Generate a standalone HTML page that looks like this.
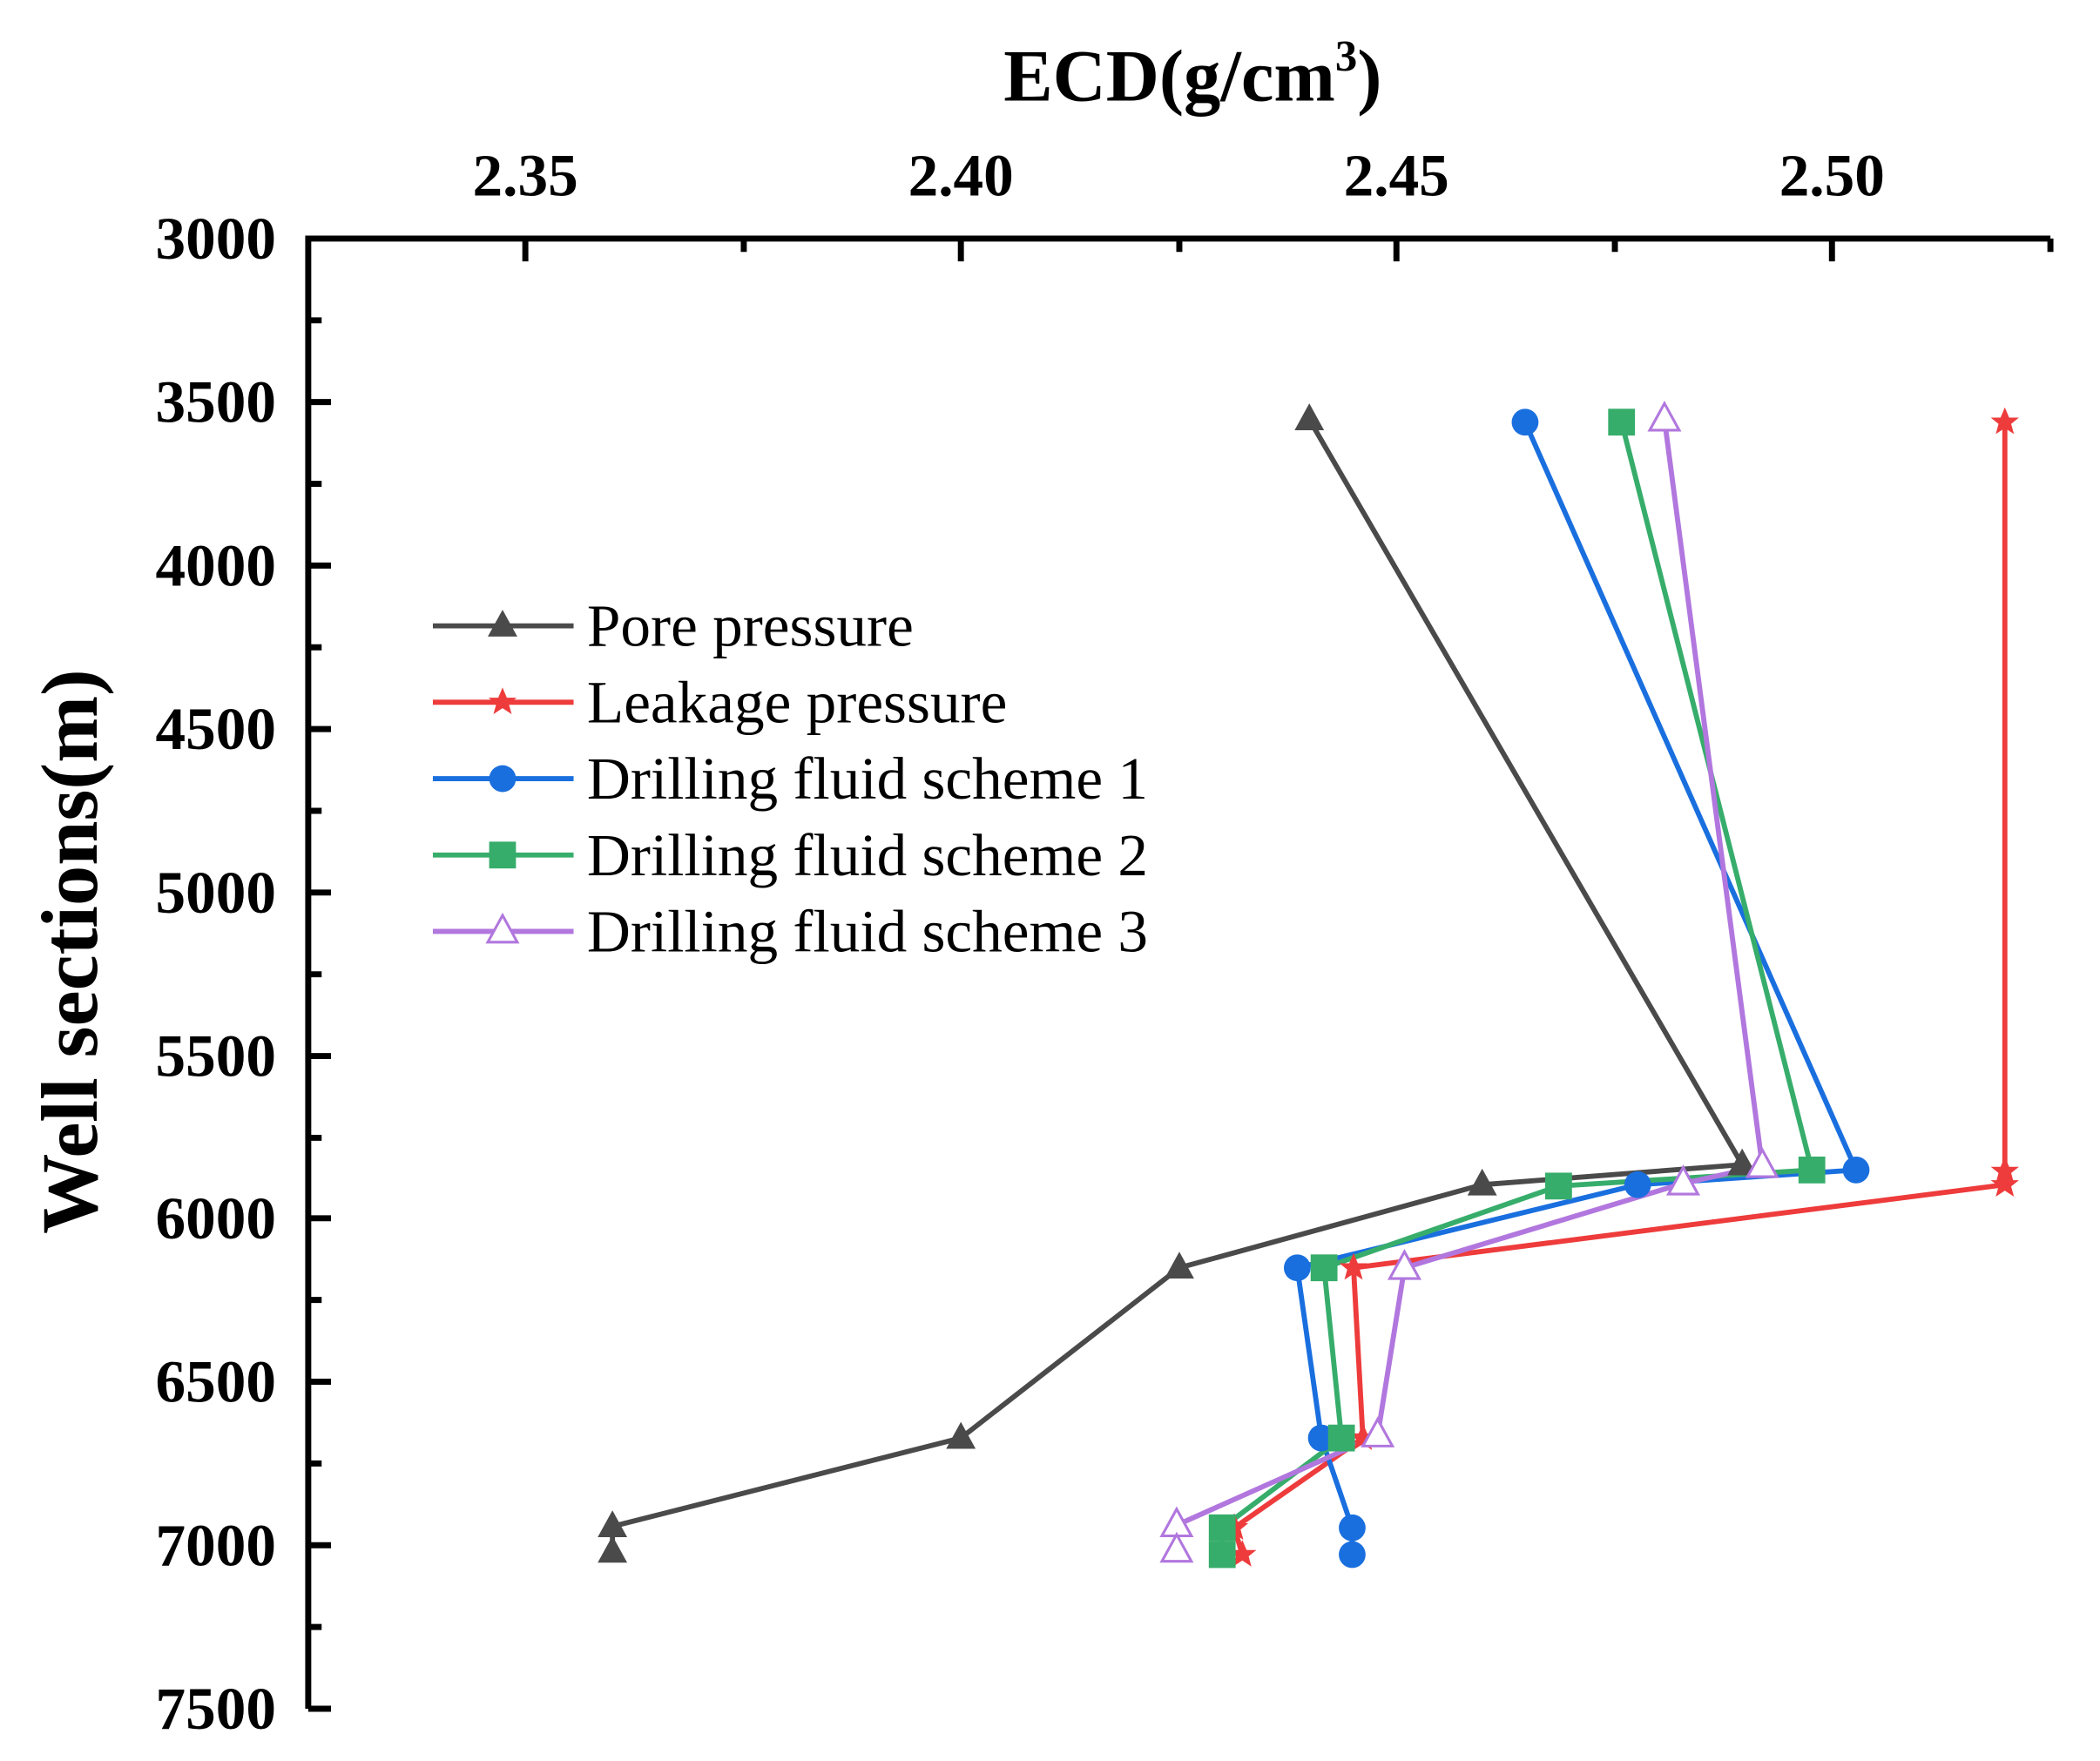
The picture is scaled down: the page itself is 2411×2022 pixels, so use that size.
<!DOCTYPE html>
<html><head><style>html,body{margin:0;padding:0;background:#fff}svg{display:block}</style></head>
<body>
<svg width="2411" height="2022" viewBox="0 0 1567 1314" preserveAspectRatio="none" xmlns="http://www.w3.org/2000/svg" font-family="Liberation Serif, serif">
<defs>
<path id="tri" d="M0,-12 L11,8 L-11,8 Z"/>
<path id="star" d="M0,-11 L3.2,-3.4 L10.5,-3.4 L4.7,1.3 L6.8,8.9 L0,4.4 L-6.8,8.9 L-4.7,1.3 L-10.5,-3.4 L-3.2,-3.4 Z"/>
</defs>
<text x="890" y="75" font-size="55" font-weight="bold" text-anchor="middle">ECD(g/cm<tspan font-size="33" dy="-22">3</tspan><tspan dy="22">)</tspan></text>
<text transform="translate(72,710) rotate(-90)" font-size="60" font-weight="bold" text-anchor="middle">Well sections(m)</text>
<g font-size="45" font-weight="bold" text-anchor="middle">
<text x="392" y="146">2.35</text><text x="717" y="146">2.40</text><text x="1042" y="146">2.45</text><text x="1367" y="146">2.50</text>
</g>
<g font-size="45" font-weight="bold" text-anchor="end">
<text x="206" y="193">3000</text><text x="206" y="315">3500</text><text x="206" y="437">4000</text><text x="206" y="559">4500</text><text x="206" y="681">5000</text><text x="206" y="803">5500</text><text x="206" y="924">6000</text><text x="206" y="1046">6500</text><text x="206" y="1168">7000</text><text x="206" y="1290">7500</text>
</g>
<g stroke="#000" stroke-width="4.5" fill="none">
<path d="M1530,178 L230,178 L230,1275"/>
<path d="M392,178v17M717,178v17M1042,178v17M1367,178v17M555,178v10M880,178v10M1205,178v10M1530,178v10"/>
<path d="M230,300h17M230,422h17M230,544h17M230,666h17M230,788h17M230,909h17M230,1031h17M230,1153h17M230,1275h17"/>
<path d="M230,239h10M230,361h10M230,483h10M230,605h10M230,727h10M230,849h10M230,970h10M230,1092h10M230,1214h10"/>
</g>
<g fill="none" stroke-width="3.8">
<polyline stroke="#4a4a4a" points="977,313 1300,869 1106,884 880,946 717,1073 457,1139 457,1158"/>
<polyline stroke="#ee3b3b" points="1496,315 1496,874 1496,884 1010,946 1017,1073 921,1140 927,1160"/>
<polyline stroke="#1a6fdf" points="1138,315 1385,873 1222,884 968,946 986,1073 1009,1140 1009,1160"/>
<polyline stroke="#37ad6b" points="1210,315 1352,873 1163,885 988,946 1001,1073 912,1140 912,1160"/>
<polyline stroke="#b177de" points="1242,313 1315,870 1256,883 1048,946 1028,1071 878,1138 878,1157"/>
</g>
<g fill="#4a4a4a">
<use href="#tri" x="977" y="313"/><use href="#tri" x="1300" y="869"/><use href="#tri" x="1106" y="884"/><use href="#tri" x="880" y="946"/><use href="#tri" x="717" y="1073"/><use href="#tri" x="457" y="1139"/><use href="#tri" x="457" y="1158"/>
</g>
<g fill="#ee3b3b">
<use href="#star" x="1496" y="315"/><use href="#star" x="1496" y="874"/><use href="#star" x="1496" y="884"/><use href="#star" x="1010" y="946"/><use href="#star" x="1017" y="1073"/><use href="#star" x="921" y="1140"/><use href="#star" x="927" y="1160"/>
</g>
<g fill="#1a6fdf">
<circle cx="1138" cy="315" r="10"/><circle cx="1385" cy="873" r="10"/><circle cx="1222" cy="884" r="10"/><circle cx="968" cy="946" r="10"/><circle cx="986" cy="1073" r="10"/><circle cx="1009" cy="1140" r="10"/><circle cx="1009" cy="1160" r="10"/>
</g>
<g fill="#37ad6b">
<rect x="1200" y="305" width="20" height="20"/><rect x="1342" y="863" width="20" height="20"/><rect x="1153" y="875" width="20" height="20"/><rect x="978" y="936" width="20" height="20"/><rect x="991" y="1063" width="20" height="20"/><rect x="902" y="1130" width="20" height="20"/><rect x="902" y="1150" width="20" height="20"/>
</g>
<g fill="#fff" stroke="#b177de" stroke-width="2">
<use href="#tri" x="1242" y="313"/><use href="#tri" x="1315" y="870"/><use href="#tri" x="1256" y="883"/><use href="#tri" x="1048" y="946"/><use href="#tri" x="1028" y="1071"/><use href="#tri" x="878" y="1138"/><use href="#tri" x="878" y="1157"/>
</g>
<g stroke-width="3.8">
<line x1="323" y1="467" x2="428" y2="467" stroke="#4a4a4a"/>
<line x1="323" y1="524" x2="428" y2="524" stroke="#ee3b3b"/>
<line x1="323" y1="581" x2="428" y2="581" stroke="#1a6fdf"/>
<line x1="323" y1="638" x2="428" y2="638" stroke="#37ad6b"/>
<line x1="323" y1="695" x2="428" y2="695" stroke="#b177de"/>
</g>
<use href="#tri" x="375" y="467" fill="#4a4a4a"/>
<use href="#star" x="375" y="524" fill="#ee3b3b"/>
<circle cx="375" cy="581" r="10" fill="#1a6fdf"/>
<rect x="365" y="628" width="20" height="20" fill="#37ad6b"/>
<use href="#tri" x="375" y="695" fill="#fff" stroke="#b177de" stroke-width="2"/>
<g font-size="45">
<text x="438" y="482">Pore pressure</text>
<text x="438" y="539">Leakage pressure</text>
<text x="438" y="596">Drilling fluid scheme 1</text>
<text x="438" y="653">Drilling fluid scheme 2</text>
<text x="438" y="710">Drilling fluid scheme 3</text>
</g>
</svg>
</body></html>
